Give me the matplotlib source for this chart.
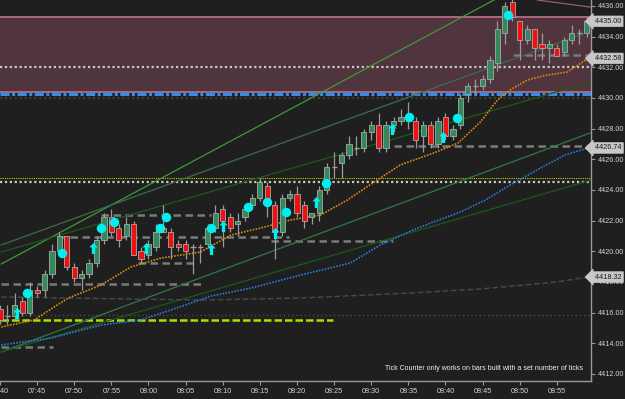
import matplotlib
matplotlib.use('Agg')
import matplotlib.pyplot as plt
import matplotlib.transforms as mtransforms
from matplotlib.path import Path

plt.rcParams['font.family'] = ['Liberation Sans', 'DejaVu Sans']

# 1 minute bars, first bar at 07:40
opens = [4416.25, 4415.75, 4415.75, 4416.75, 4416.0, 4417.5, 4417.5, 4418.5, 4420.0, 4421.0,
         4419.0, 4418.25, 4418.5, 4419.25, 4420.75, 4422.25, 4421.5, 4421.0, 4421.75, 4420.0,
         4419.75, 4420.25, 4421.5, 4421.25, 4420.5, 4420.5, 4420.25, 4420.25, 4420.5, 4421.5,
         4422.75, 4422.25, 4421.75, 4422.25, 4423.0, 4423.5, 4424.25, 4423.0, 4421.25, 4423.5,
         4423.75, 4423.0, 4422.25, 4422.5, 4424.0, 4425.5, 4425.75, 4426.25, 4426.75, 4426.75,
         4427.75, 4428.25, 4426.75, 4428.25, 4428.5, 4428.75, 4428.5, 4427.5, 4428.25, 4427.0,
         4428.75, 4427.5, 4428.25, 4430.25, 4430.75, 4430.75, 4431.25, 4432.25, 4434.25, 4436.25,
         4435.0, 4433.75, 4434.5, 4433.5, 4433.25, 4433.25, 4433.0, 4433.75, 4434.25, 4434.25]
highs = [4416.5, 4416.5, 4417.25, 4417.0, 4418.0, 4417.75, 4418.75, 4420.5, 4421.25, 4421.0,
         4419.25, 4418.75, 4419.5, 4421.0, 4422.5, 4422.75, 4421.75, 4422.25, 4422.0, 4420.25,
         4420.75, 4421.75, 4423.0, 4421.5, 4420.75, 4420.75, 4420.5, 4420.5, 4421.75, 4423.0,
         4423.0, 4422.5, 4422.5, 4423.0, 4423.75, 4424.75, 4424.5, 4423.25, 4423.75, 4424.0,
         4424.25, 4423.25, 4422.5, 4424.25, 4425.75, 4426.5, 4426.5, 4427.5, 4427.5, 4428.0,
         4428.5, 4429.0, 4428.5, 4428.75, 4429.25, 4429.75, 4428.75, 4428.5, 4428.5, 4428.75,
         4429.0, 4428.25, 4430.25, 4431.0, 4431.25, 4431.5, 4432.75, 4435.0, 4436.25, 4436.5,
         4435.0, 4434.75, 4434.5, 4434.25, 4433.75, 4433.5, 4434.0, 4434.75, 4434.5, 4435.25]
lows = [4415.25, 4415.25, 4415.5, 4415.75, 4415.75, 4417.0, 4417.0, 4418.25, 4419.75, 4418.75,
        4418.0, 4417.5, 4418.25, 4419.0, 4420.5, 4421.0, 4420.25, 4420.75, 4419.75, 4419.25,
        4419.5, 4420.0, 4421.25, 4419.5, 4420.0, 4419.5, 4418.5, 4419.25, 4420.25, 4421.25,
        4420.25, 4421.25, 4421.0, 4422.0, 4422.75, 4423.25, 4422.25, 4419.5, 4421.0, 4423.25,
        4422.25, 4421.5, 4421.75, 4422.0, 4423.75, 4424.75, 4424.75, 4426.0, 4426.25, 4426.5,
        4427.25, 4426.5, 4426.5, 4427.75, 4428.25, 4428.0, 4426.75, 4426.5, 4426.75, 4426.75,
        4427.25, 4427.25, 4428.0, 4429.75, 4430.25, 4430.5, 4431.0, 4431.75, 4433.5, 4435.0,
        4432.5, 4433.5, 4432.5, 4432.5, 4432.25, 4432.75, 4432.75, 4433.5, 4433.5, 4434.0]
closes = [4415.5, 4415.75, 4416.5, 4416.0, 4417.5, 4417.25, 4418.5, 4420.0, 4421.0, 4419.0,
          4418.25, 4418.5, 4419.25, 4420.75, 4422.25, 4421.25, 4420.75, 4421.75, 4419.75, 4419.5,
          4420.5, 4421.25, 4421.25, 4420.25, 4420.25, 4420.0, 4420.25, 4420.25, 4421.5, 4422.5,
          4422.0, 4421.5, 4422.0, 4422.75, 4423.5, 4424.5, 4423.5, 4421.25, 4423.5, 4423.75,
          4422.5, 4422.0, 4422.5, 4424.0, 4425.5, 4425.5, 4426.25, 4427.0, 4426.75, 4427.75,
          4428.25, 4426.75, 4428.25, 4428.5, 4428.75, 4428.5, 4427.25, 4428.25, 4427.0, 4428.5,
          4427.5, 4428.0, 4430.0, 4430.75, 4430.75, 4431.25, 4432.5, 4434.5, 4436.0, 4435.25,
          4433.75, 4434.5, 4433.25, 4433.25, 4433.5, 4432.75, 4433.75, 4434.25, 4434.25, 4435.0]

time_ticks = [0, 5, 10, 15, 20, 25, 30, 35, 40, 45, 50, 55, 60, 65, 70, 75]
time_labels = ['07:40', '07:45', '07:50', '07:55', '08:00', '08:05', '08:10', '08:15',
               '08:20', '08:25', '08:30', '08:35', '08:40', '08:45', '08:50', '08:55']
price_ticks = [4412, 4414, 4416, 4418, 4420, 4422, 4424, 4426, 4428, 4430, 4432, 4434, 4436]

# moving averages (bar index, price)
fast_ma_x = [0.16, 4.6, 7.3, 9.2, 13.6, 17.6, 21.7, 27.0, 31.1, 35.1, 39.1, 43.2, 46.8, 50.6,
             53.9, 58.4, 61.7, 64.7, 67.0, 68.7, 71.0, 73.7, 76.4, 79.2]
fast_ma_y = [4415.06, 4415.52, 4416.37, 4416.95, 4417.8, 4418.97, 4419.56, 4419.95, 4421.06,
             4421.52, 4422.04, 4422.37, 4423.35, 4424.58, 4425.63, 4426.41, 4427.06, 4428.43,
             4429.87, 4430.52, 4431.17, 4431.5, 4431.69, 4432.58]
mid_ma_x = [0.16, 6.9, 13.6, 19.0, 23.0, 28.4, 33.8, 40.5, 47.2, 51.2, 55.3, 58.0, 62.0, 65.4,
            68.7, 72.8, 76.1, 79.2]
mid_ma_y = [4413.89, 4414.34, 4415.19, 4415.52, 4416.17, 4417.08, 4417.6, 4418.45, 4419.24,
            4420.41, 4421.32, 4421.84, 4422.56, 4423.35, 4424.32, 4425.43, 4426.28, 4426.74]
slow_ma_x = [0.16, 27.0, 40.5, 55.3, 64.7, 75.0, 79.2]
slow_ma_y = [4417.02, 4416.82, 4416.95, 4417.28, 4417.54, 4418.0, 4418.32]

# trend lines: (x0, y0, x1, y1, color)
trend_lines = [
    (0.16, 4419.17, 79.6, 4439.78, '#3f9a3a'),
    (0.16, 4420.41, 79.6, 4434.37, '#3b6e4a'),
    (0.16, 4419.95, 79.6, 4431.04, '#1d5a1d'),
    (0.16, 4413.43, 79.5, 4427.72, '#2f7a45'),
    (0.16, 4413.43, 79.6, 4424.65, '#1b5a1b'),
    (72.35, 4436.39, 79.5, 4435.93, '#a05a78'),
]

# short gray dashed levels: (start, end, price)
levels = [
    (13.6, 28.4, 4422.37),
    (7.8, 38.9, 4420.96),
    (36.5, 52.9, 4420.67),
    (18.6, 26.4, 4419.24),
    (0.16, 27.45, 4417.87),
    (0.16, 7.15, 4413.76),
    (51.5, 79.5, 4426.87),
    (69.1, 79.5, 4432.80),
]

zone_low, zone_high = 4430.40, 4435.30

dot_x = [3.66, 8.36, 13.6, 15.35, 21.5, 22.3, 28.4, 33.4, 35.9, 38.5, 43.85, 55.1, 61.6, 68.4]
dot_y = [4417.28, 4419.89, 4421.52, 4421.91, 4421.52, 4422.24, 4421.52, 4422.89, 4423.21,
         4422.56, 4424.45, 4428.76, 4428.69, 4435.41]
arrow_x = [2.31, 12.5, 19.65, 28.4, 30.0, 37.1, 42.5, 52.85, 59.7]
arrow_y = [4416.0, 4420.21, 4420.21, 4420.15, 4421.65, 4421.19, 4423.21, 4427.98, 4427.45]

price_flags = [(4435.00, '4435.00'), (4432.58, '4432.58'), (4426.74, '4426.74'), (4418.32, '4418.32')]

BG = '#1f1f1f'
GRID = '#9a9a9a'
TXT = '#d4d4d4'

fig = plt.figure(figsize=(6.25, 3.99), dpi=100, facecolor=BG)
ax = fig.add_axes([0, 18 / 399, 591 / 625, 381 / 399], facecolor=BG)
ax.set_xlim(0.16, 79.6)
ax.set_ylim(4411.54, 4436.39)

# zone
ax.axhspan(zone_low, zone_high, color='#50343e', zorder=0.5, lw=0)
ax.axhline(zone_high, color='#b86a86', lw=1.3, zorder=0.6)
ax.axhline(zone_low, color='#b86a86', lw=1.3, zorder=0.6)

# full width levels
ax.axhline(4432.0, color='#c8c8c8', lw=1.6, ls=(0, (1, 1.2)), zorder=1)
ax.axhline(4430.25, color='#2a90f0', lw=2.2, ls=(0, (3, 0.8, 1, 0.8)), zorder=1.1)
ax.axhline(4430.02, color='#3c3c3c', lw=1.6, ls=(0, (1, 1.2)), zorder=1)
ax.axhline(4424.75, color='#c8c800', lw=0.8, ls=(0, (1, 1)), zorder=1)
ax.axhline(4424.50, color='#c8c8c8', lw=1.6, ls=(0, (1, 1.2)), zorder=1)
ax.axhline(4415.85, color='#4a4a4a', lw=1.0, ls=(0, (1, 2)), zorder=1)
ax.hlines(4415.52, 0.16, 44.9, color='#a6e000', lw=1.8, linestyles=(0, (3, 1.2)), zorder=1.2)

for x0, x1, y in levels:
    ax.hlines(y, x0, x1, color='#7a7a7a', lw=1.8, linestyles=(0, (3, 1.8)), zorder=1.2)

for x0, y0, x1, y1, c in trend_lines:
    ax.plot([x0, x1], [y0, y1], color=c, lw=0.9, zorder=1.5)

ax.plot(slow_ma_x, slow_ma_y, color='#4a4a4a', lw=1.0, ls=(0, (4, 2)), zorder=1.6)
ax.plot(mid_ma_x, mid_ma_y, color='#2a7ad8', lw=1.2, ls=(0, (1, 0.8)), zorder=1.7)
ax.plot(fast_ma_x, fast_ma_y, color='#d88a10', lw=1.2, ls=(0, (1, 0.8)), zorder=1.7)

# candles
xs = list(range(len(opens)))
width = 0.7
ax.vlines(xs, lows, highs, color='#9a9a9a', lw=0.9, zorder=3)
for i in xs:
    o, c = opens[i], closes[i]
    if o == c:
        ax.hlines(o, i - width / 2, i + width / 2, color='#9a9a9a', lw=1.0, zorder=4)
        continue
    fc = '#33895c' if c > o else '#f01010'
    ax.bar(i, abs(c - o), bottom=min(o, c), width=width, color=fc,
           edgecolor='#a8a8a8', lw=0.6, zorder=4)

# signal markers
arrow_marker = Path([(0, 1), (0.75, 0.2), (0.3, 0.2), (0.3, -1), (-0.3, -1),
                     (-0.3, 0.2), (-0.75, 0.2), (0, 1)])
ax.plot(arrow_x, arrow_y, ls='none', marker=arrow_marker, ms=8, color='#00f0f0',
        mec='none', zorder=6)
ax.plot(dot_x, dot_y, ls='none', marker='o', ms=6.8, color='#00f0f0', mec='none', zorder=6)

# axes styling
for s in ['top', 'left']:
    ax.spines[s].set_visible(False)
for s in ['right', 'bottom']:
    ax.spines[s].set_color(GRID)
    ax.spines[s].set_linewidth(1.0)
ax.yaxis.tick_right()
ax.set_yticks(price_ticks)
ax.set_yticklabels([f'{p:.2f}' for p in price_ticks])
ax.set_xticks(time_ticks)
ax.set_xticklabels(time_labels)
ax.tick_params(axis='both', colors=GRID, labelcolor=TXT, labelsize=5.2, length=3, width=0.8, pad=2)

trans = mtransforms.blended_transform_factory(ax.transAxes, ax.transData)
for val, lab in price_flags:
    ax.text(1.0, val, '  ' + lab, transform=trans, ha='left', va='center', fontsize=5.2,
            color='#1a1a1a', clip_on=False, zorder=10,
            bbox=dict(boxstyle='larrow,pad=0.25', fc='#c8c8c8', ec='#c8c8c8', lw=0.5))

fig.text(583 / 625, 1 - 369 / 399, 'Tick Counter only works on bars built with a set number of ticks',
         ha='right', va='center', fontsize=5.0, color='#f0f0f0')

fig.savefig('out.png', dpi=100, facecolor=BG)
